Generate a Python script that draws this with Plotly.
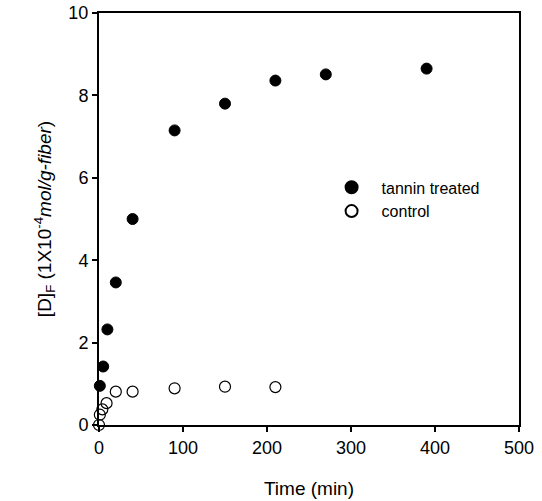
import plotly.graph_objects as go

time_tannin = [1, 5, 10, 20, 40, 90, 150, 210, 270, 390]
df_tannin = [0.95, 1.42, 2.32, 3.46, 5.0, 7.15, 7.8, 8.36, 8.51, 8.65]

time_control = [0, 1, 4, 9, 20, 40, 90, 150, 210]
df_control = [0.0, 0.25, 0.38, 0.53, 0.81, 0.81, 0.89, 0.93, 0.92]

x_ticks = [0, 100, 200, 300, 400, 500]
y_ticks = [0, 2, 4, 6, 8, 10]

fig = go.Figure()
fig.add_trace(go.Scatter(
    x=time_tannin, y=df_tannin, mode="markers", name="tannin treated",
    marker=dict(symbol="circle", size=11, color="black",
                line=dict(color="black", width=1)),
    cliponaxis=False,
))
fig.add_trace(go.Scatter(
    x=time_control, y=df_control, mode="markers", name="control",
    marker=dict(symbol="circle-open", size=11, color="black",
                line=dict(color="black", width=1.2)),
    cliponaxis=False,
))

axis_common = dict(
    showgrid=False, zeroline=False, showline=True, linecolor="black",
    linewidth=2, mirror=True, ticks="outside", ticklen=5, tickwidth=1.5,
    tickcolor="black", tickfont=dict(size=18, color="black"),
    automargin=False, ticklabeloverflow="allow",
)

fig.update_layout(
    width=542, height=501,
    margin=dict(l=99, r=23, t=13, b=76),
    paper_bgcolor="white", plot_bgcolor="white",
    font=dict(family="Liberation Sans, Arial, sans-serif", color="black"),
    xaxis=dict(range=[0, 500], tickvals=x_ticks,
               title=dict(text="Time (min)", font=dict(size=19), standoff=25),
               **axis_common),
    yaxis=dict(range=[0, 10], tickvals=y_ticks,
               title=dict(text="[D]<sub>F</sub> (1X10<sup>-4</sup><i>mol/g-fiber</i>)",
                          font=dict(size=19), standoff=12),
               **axis_common),
    legend=dict(x=0.53, y=0.618, xanchor="left", yanchor="top",
                bgcolor="rgba(0,0,0,0)", font=dict(size=16, color="black"),
                itemsizing="constant", itemwidth=50, tracegroupgap=0),
    showlegend=True,
)

fig.write_html(
    "out.html",
    config={"displayModeBar": False},
    post_script="document.body.style.margin='0';document.body.style.overflow='hidden';",
)
